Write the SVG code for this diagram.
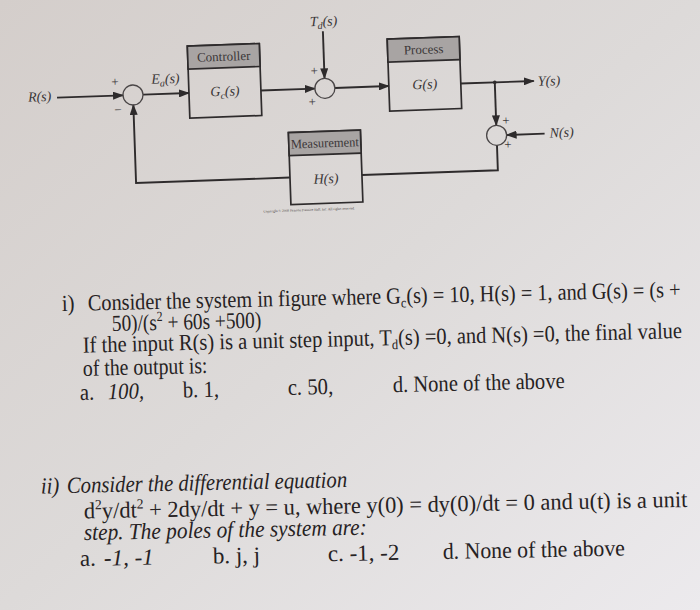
<svg xmlns="http://www.w3.org/2000/svg" width="700" height="610" viewBox="0 0 700 610">
<defs>
<linearGradient id="bg" x1="0" y1="0" x2="1" y2="1">
<stop offset="0" stop-color="#d4cecb"/>
<stop offset="0.5" stop-color="#dddad9"/>
<stop offset="1" stop-color="#eceaed"/>
</linearGradient>
<marker id="arr" markerWidth="11" markerHeight="8" refX="10" refY="4" orient="auto" markerUnits="userSpaceOnUse"><path d="M0,0 L11,4 L0,8 z" fill="#2e2b2c"/></marker>
</defs>
<style>
.ln{fill:none;stroke:#2e2b2c;stroke-width:1.9}
.ar{marker-end:url(#arr)}
.box{fill:none;stroke:#2e2b2c;stroke-width:1.7}
.hdr{fill:#a8a4a3;stroke:#2e2b2c;stroke-width:1.7}
.sum{fill:none;stroke:#4a4647;stroke-width:1.3}
.lbl{font-family:"Liberation Serif","Times New Roman",serif;font-size:13px;fill:#3a3637}
.it{font-style:italic;font-size:14px}
.mid{text-anchor:middle}
.tiny{font-size:3.5px;fill:#4a4646}
.q{font-family:"Liberation Serif","Times New Roman",serif;font-size:23px;fill:#262223}
.i{font-style:italic}
</style>
<rect x="0" y="0" width="700" height="610" fill="url(#bg)"/>

<g id="diagram" transform="rotate(-2 133 95)">
  <g id="connectors">
    <line class="ln ar" x1="57" y1="95" x2="123" y2="95"/>
    <line class="ln ar" x1="143" y1="95" x2="189" y2="95"/>
    <line class="ln ar" x1="261" y1="95" x2="315" y2="95"/>
    <line class="ln ar" x1="325" y1="38" x2="325" y2="85"/>
    <line class="ln ar" x1="335" y1="95" x2="389" y2="95"/>
    <line class="ln ar" x1="461" y1="95" x2="534" y2="95"/>
    <line class="ln ar" x1="495" y1="95" x2="495" y2="138"/>
    <line class="ln ar" x1="543" y1="148" x2="505" y2="148"/>
    <polyline class="ln" points="495,158 495,183 359,183"/>
    <polyline class="ln ar" points="287,183 133,183 133,105"/>
    <circle cx="495" cy="95" r="1.8" fill="#2e2b2c"/>
  </g>
  <g id="input-R">
    <text class="lbl it" x="28" y="98">R(s)</text>
  </g>
  <g id="sum1">
    <circle class="sum" cx="133" cy="95" r="10"/>
    <text class="lbl mid" x="115.5" y="85.5">+</text>
    <text class="lbl mid" x="117.5" y="113.5">−</text>
    <text class="lbl it mid" x="166" y="84.5">E<tspan font-size="10" dy="3">a</tspan><tspan dy="-3">(s)</tspan></text>
  </g>
  <g id="controller">
    <rect class="box" x="189" y="48" width="72" height="72"/>
    <rect class="hdr" x="189" y="48" width="72" height="23"/>
    <text class="lbl mid" x="225" y="64">Controller</text>
    <text class="lbl it mid" x="225" y="99">G<tspan font-size="10" dy="3">c</tspan><tspan dy="-3">(s)</tspan></text>
  </g>
  <g id="disturbance-Td">
    <text class="lbl it mid" x="326" y="32.5">T<tspan font-size="10" dy="3">d</tspan><tspan dy="-3">(s)</tspan></text>
  </g>
  <g id="sum2">
    <circle class="sum" cx="325" cy="95" r="10"/>
    <text class="lbl mid" x="315" y="81.5">+</text>
    <text class="lbl mid" x="312" y="112.5">+</text>
  </g>
  <g id="process">
    <rect class="box" x="389" y="48" width="72" height="72"/>
    <rect class="hdr" x="389" y="48" width="72" height="23"/>
    <text class="lbl mid" x="425" y="64">Process</text>
    <text class="lbl it mid" x="425" y="99">G(s)</text>
  </g>
  <g id="output-Y">
    <text class="lbl it" x="538" y="100">Y(s)</text>
  </g>
  <g id="sum3">
    <circle class="sum" cx="495" cy="148" r="10"/>
    <text class="lbl mid" x="505" y="138">+</text>
    <text class="lbl mid" x="506" y="162">+</text>
  </g>
  <g id="noise-N">
    <text class="lbl it" x="548" y="152">N(s)</text>
  </g>
  <g id="measurement">
    <rect class="box" x="287" y="138" width="72" height="72"/>
    <rect class="hdr" x="287" y="138" width="72" height="23"/>
    <text class="lbl mid" x="323" y="154" textLength="68" lengthAdjust="spacingAndGlyphs">Measurement</text>
    <text class="lbl it mid" x="323" y="190">H(s)</text>
  </g>
  <text class="lbl mid tiny" x="305" y="217">Copyright © 2008 Pearson Prentice Hall, Inc. All rights reserved.</text>
</g>

<g id="question-1">
  <text class="q" transform="translate(62 311) rotate(-1.3) scale(0.9 1)">i)</text>
  <text class="q" transform="translate(88 310.5) rotate(-1.3) scale(0.882 1)">Consider the system in figure where G<tspan font-size="14" dy="4">c</tspan><tspan dy="-4">(s) = 10, H(s) = 1, and G(s) = (s +</tspan></text>
  <text class="q" transform="translate(112 331) rotate(-1.3) scale(0.84 1)">50)/(s<tspan font-size="14" dy="-9">2</tspan><tspan dy="9"> + 60s +500)</tspan></text>
  <text class="q" transform="translate(83 352.7) rotate(-1.4) scale(0.891 1)">If the input R(s) is a unit step input, T<tspan font-size="14" dy="4">d</tspan><tspan dy="-4">(s) =0, and N(s) =0, the final value</tspan></text>
  <text class="q" transform="translate(83 376) rotate(-1.4) scale(0.86 1)">of the output is:</text>
  <g transform="translate(80 400) rotate(-1.4)">
    <text class="q" transform="scale(0.9 1)">a.</text>
    <text class="q i" transform="translate(28 0) scale(0.9 1)">100,</text>
    <text class="q" transform="translate(103 0) scale(0.9 1)">b. 1,</text>
    <text class="q" transform="translate(208 0) scale(0.9 1)">c. 50,</text>
    <text class="q" transform="translate(313 0) scale(0.895 1)">d. None of the above</text>
  </g>
</g>

<g id="question-2">
  <text class="q i" transform="translate(41 493.5) rotate(-1.2) scale(0.9 1)">ii)</text>
  <text class="q i" transform="translate(67 493) rotate(-1.2) scale(0.9 1)">Consider the differential equation</text>
  <text class="q" transform="translate(84 518.5) rotate(-1.1) scale(0.975 1)">d<tspan font-size="14" dy="-9">2</tspan><tspan dy="9">y/dt</tspan><tspan font-size="14" dy="-9">2</tspan><tspan dy="9"> + 2dy/dt + y = u, where y(0) = dy(0)/dt = 0 and u(t) is a unit</tspan></text>
  <text class="q i" transform="translate(84 540) rotate(-1.1) scale(0.928 1)">step. The poles of the system are:</text>
  <g transform="translate(80 566) rotate(-1.1)">
    <text class="q">a.</text>
    <text class="q i" x="24">-1, -1</text>
    <text class="q" x="133">b. j, j</text>
    <text class="q" x="248">c. -1, -2</text>
    <text class="q" transform="translate(363 0) scale(0.948 1)">d. None of the above</text>
  </g>
</g>
</svg>
